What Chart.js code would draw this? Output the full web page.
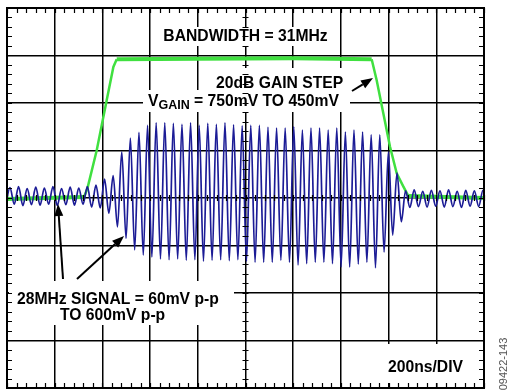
<!DOCTYPE html>
<html><head><meta charset="utf-8">
<script src="https://cdn.jsdelivr.net/npm/chart.js@4.4.0/dist/chart.umd.min.js"></script>
<style>html,body{margin:0;padding:0;background:#fff;}canvas{display:block;}</style>
</head><body>
<canvas id="c" width="507" height="392"></canvas>
<script>
// ---- data (time in ns, amplitude in divisions) ----
const timeRangeNs = [0, 2000];
const ampRangeDiv = [-4, 4];
const majorStepNs = 200;
const majorStepDiv = 1;

// 28MHz signal: alternating troughs/peaks
const bluePeriodNs = 36.06;
const blueFirstTroughNs = -5.6;
const bluePeaks = [
  0.22, 0.24, 0.20, 0.23, 0.21, 0.24, 0.20, 0.23, 0.21, 0.24,
  0.27, 0.40, 0.47, 0.97, 1.26, 1.38, 1.53, 1.58, 1.58,
  1.57, 1.55, 1.58, 1.53, 1.57, 1.55, 1.58, 1.54, 1.52,
  1.53, 1.53, 1.49, 1.47, 1.47, 1.50, 1.43, 1.47, 1.47,
  1.43, 1.47, 1.39, 1.43, 1.39, 1.33, 1.33, 0.97, 0.53,
  0.15, 0.17, 0.14, 0.16, 0.15, 0.17, 0.14, 0.16, 0.15, 0.16
];
const blueTroughs = [
  -0.15, -0.13, -0.16, -0.14, -0.15, -0.13, -0.16, -0.14, -0.15, -0.13, -0.19,
  -0.21, -0.32, -0.61, -0.85, -1.09, -1.20, -1.24, -1.28,
  -1.30, -1.28, -1.31, -1.30, -1.33, -1.31, -1.30, -1.32, -1.30, -1.33,
  -1.35, -1.35, -1.35, -1.31, -1.35, -1.41, -1.38, -1.35, -1.35, -1.38,
  -1.45, -1.45, -1.39, -1.35, -1.47, -1.14, -0.78, -0.50,
  -0.20, -0.18, -0.19, -0.17, -0.19, -0.18, -0.20, -0.17, -0.18, -0.19
];

// gain step envelope
const greenTimesNs = [0, 323, 337, 376, 418, 446, 460, 800, 1200, 1529, 1550, 1578, 1606, 1634, 1662, 1683, 2000];
const greenLevels  = [-0.02, 0.02, 0.20, 1.00, 2.06, 2.76, 2.92, 2.93, 2.94, 2.92, 2.48, 1.78, 1.08, 0.52, 0.24, 0.04, 0.00];

// annotation texts
const labelBandwidth = 'BANDWIDTH = 31MHz';
const labelStep = '20dB GAIN STEP';
const labelVgainMain = 'V';
const labelVgainSub = 'GAIN';
const labelVgainRest = ' = 750mV TO 450mV';
const labelSignal1 = '28MHz SIGNAL = 60mV p-p';
const labelSignal2 = 'TO 600mV p-p';
const labelScale = '200ns/DIV';
const labelCode = '09422-143';

// ---- build datasets ----
const blueData = [];
for (let m = 0; m < blueTroughs.length; m++) {
  blueData.push({x: blueFirstTroughNs + m * bluePeriodNs, y: blueTroughs[m]});
  if (m < bluePeaks.length) blueData.push({x: blueFirstTroughNs + (m + 0.5) * bluePeriodNs, y: bluePeaks[m]});
}
const greenData = greenTimesNs.map((t, i) => ({x: t, y: greenLevels[i]}));

const FONT = '"Liberation Sans", Arial, Helvetica, sans-serif';

const overlay = {
  id: 'overlay',
  beforeDatasetsDraw(chart) {
    const ctx = chart.ctx;
    ctx.save();
    ctx.fillStyle = '#fff';
    [[157, 27, 178, 19], [210, 68, 139, 24], [143, 90, 207, 22], [9, 281, 225, 44], [384, 344, 95, 39]]
      .forEach(b => ctx.fillRect(b[0], b[1], b[2], b[3]));
    ctx.restore();
  },
  afterDraw(chart) {
    const ctx = chart.ctx, a = chart.chartArea;
    const xs = chart.scales.x, ys = chart.scales.y;
    ctx.save();
    ctx.strokeStyle = '#000';
    ctx.lineWidth = 2;
    ctx.strokeRect(a.left, a.top, a.right - a.left, a.bottom - a.top);
    // minor ticks
    ctx.lineWidth = 1.2;
    const x0 = xs.getPixelForValue(1000), y0 = ys.getPixelForValue(0);
    ctx.beginPath();
    for (let t = timeRangeNs[0]; t <= timeRangeNs[1] + 0.01; t += majorStepNs / 5) {
      const px = Math.round(xs.getPixelForValue(t)) + 0.5;
      ctx.moveTo(px, a.top); ctx.lineTo(px, a.top + 5);
      ctx.moveTo(px, a.bottom); ctx.lineTo(px, a.bottom - 5);
      ctx.moveTo(px, y0 - 3); ctx.lineTo(px, y0 + 3);
    }
    for (let v = ampRangeDiv[0]; v <= ampRangeDiv[1] + 0.01; v += majorStepDiv / 5) {
      const py = Math.round(ys.getPixelForValue(v)) + 0.5;
      ctx.moveTo(a.left, py); ctx.lineTo(a.left + 5, py);
      ctx.moveTo(a.right, py); ctx.lineTo(a.right - 5, py);
      ctx.moveTo(x0 - 3, py); ctx.lineTo(x0 + 3, py);
    }
    ctx.stroke();

    // texts
    ctx.fillStyle = '#000';
    ctx.textBaseline = 'alphabetic';
    ctx.font = 'bold 15.7px ' + FONT;
    ctx.textAlign = 'center';
    ctx.fillText(labelBandwidth, 245.5, 41);
    ctx.textAlign = 'left';
    ctx.fillText(labelStep, 216, 87.5);
    ctx.fillText(labelVgainMain, 148, 105.5);
    let w = ctx.measureText(labelVgainMain).width;
    ctx.font = 'bold 12.5px ' + FONT;
    ctx.fillText(labelVgainSub, 148 + w, 108.5);
    const w2 = ctx.measureText(labelVgainSub).width;
    ctx.font = 'bold 15.7px ' + FONT;
    ctx.fillText(labelVgainRest, 148 + w + w2, 105.5);
    ctx.fillText(labelSignal1, 17, 303.5);
    ctx.fillText(labelSignal2, 60, 319.5);
    ctx.fillText(labelScale, 388, 372);

    // arrows
    const arrow = (x1, y1, x2, y2) => {
      const ang = Math.atan2(y2 - y1, x2 - x1), L = 12, H = 4.5;
      const bx = x2 - L * Math.cos(ang), by = y2 - L * Math.sin(ang);
      ctx.lineWidth = 2;
      ctx.beginPath(); ctx.moveTo(x1, y1); ctx.lineTo(bx, by); ctx.stroke();
      ctx.beginPath();
      ctx.moveTo(x2, y2);
      ctx.lineTo(bx + H * Math.sin(ang), by - H * Math.cos(ang));
      ctx.lineTo(bx - H * Math.sin(ang), by + H * Math.cos(ang));
      ctx.closePath(); ctx.fill();
    };
    arrow(63, 279, 58, 204);
    arrow(77, 279, 124, 236);
    arrow(352, 91, 373, 78);

    // rotated code
    ctx.translate(503.5, 364);
    ctx.rotate(-Math.PI / 2);
    ctx.font = '11px ' + FONT;
    ctx.fillStyle = '#555';
    ctx.textAlign = 'center';
    ctx.textBaseline = 'middle';
    ctx.fillText(labelCode, 0, 0);
    ctx.restore();
  }
};

const gridOpts = {color: '#000', lineWidth: 1.5, drawTicks: false};
new Chart(document.getElementById('c'), {
  type: 'line',
  data: {
    datasets: [
      {
        data: blueData, borderColor: '#1c1c96', borderWidth: 1.7,
        cubicInterpolationMode: 'monotone', pointRadius: 0, fill: false
      },
      {
        data: greenData, borderColor: '#40e040', pointRadius: 0, fill: false, tension: 0,
        borderWidth: 3,
        segment: {borderWidth: c => Math.abs(c.p0.parsed.y - c.p1.parsed.y) > 0.05 ? 2.5 : 4}
      }
    ]
  },
  options: {
    responsive: false, animation: false, devicePixelRatio: 1,
    layout: {padding: {left: 7, right: 23, top: 8, bottom: 4}},
    plugins: {legend: {display: false}, tooltip: {enabled: false}},
    scales: {
      x: {type: 'linear', min: timeRangeNs[0], max: timeRangeNs[1],
          ticks: {display: false, stepSize: majorStepNs}, grid: gridOpts, border: {display: false}},
      y: {type: 'linear', min: ampRangeDiv[0], max: ampRangeDiv[1],
          ticks: {display: false, stepSize: majorStepDiv}, grid: gridOpts, border: {display: false}}
    }
  },
  plugins: [overlay]
});
</script>
</body></html>
